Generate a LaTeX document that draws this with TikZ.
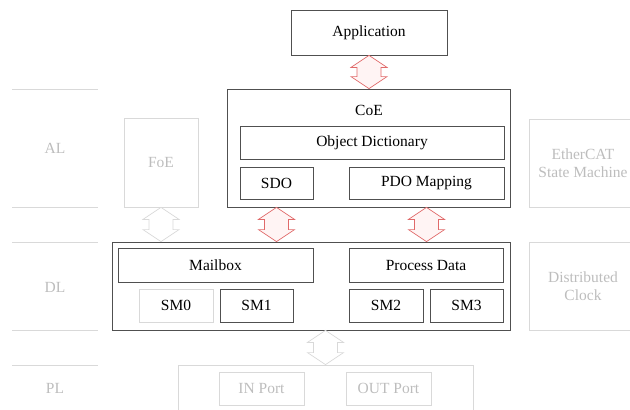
\documentclass[tikz,border=0pt]{standalone}
\usepackage{fontspec}
\setmainfont{Liberation Serif}
\usetikzlibrary{calc}

\definecolor{edge}{HTML}{505050}
\definecolor{faint}{HTML}{D9D9D9}
\definecolor{fainttext}{HTML}{BDBDBD}
\definecolor{linkred}{HTML}{E06A6A}
\definecolor{linkfill}{HTML}{FFF4F4}

% vertical double-headed block arrow between two named points
\newcommand\blockupdown[3]{%
  \draw[#1] let \p1=(#2), \p2=(#3) in
    (\x1,\y1) -- (\x1+18pt,\y1-12pt) -- (\x1+12pt,\y1-12pt)
    -- (\x1+12pt,\y2+12pt) -- (\x1+18pt,\y2+12pt) -- (\x1,\y2)
    -- (\x1-18pt,\y2+12pt) -- (\x1-12pt,\y2+12pt)
    -- (\x1-12pt,\y1-12pt) -- (\x1-18pt,\y1-12pt) -- cycle;}

\tikzset{
  box/.style={draw=edge, line width=0.8pt, rectangle, inner sep=0pt,
    font=\fontsize{15.5}{17.5}\selectfont, text=black},
  ghost/.style={draw=faint, line width=0.8pt, rectangle, inner sep=0pt,
    font=\fontsize{15.5}{17.5}\selectfont, text=fainttext, align=center},
  lbl/.style={font=\fontsize{15.5}{17.5}\selectfont, inner sep=0pt},
  redlink/.style={draw=linkred, line width=0.7pt, fill=linkfill, line join=miter},
  greylink/.style={draw=faint, line width=0.7pt, fill=white, line join=miter},
  layerline/.style={draw=faint, line width=0.8pt}
}

\begin{document}
\begin{tikzpicture}[x=1pt, y=-1pt]
\useasboundingbox (0,0) rectangle (630,410);
\clip (0,0) rectangle (630,410);

% layer separators and names
\foreach \yy in {89,207,242,330,365} \draw[layerline] (12,\yy) -- (98,\yy);
\node[lbl, text=fainttext] (al) at (55,148) {AL};
\node[lbl, text=fainttext] (dlname) at (55,287) {DL};
\node[lbl, text=fainttext] (plname) at (55,388) {PL};

% application layer
\node[box, minimum width=156pt, minimum height=45pt] (app) at (369,32.5) {Application};
\node[box, minimum width=283pt, minimum height=118pt] (coe) at (368.5,148) {};
\node[lbl] (coename) at (369,110) {CoE};
\node[box, minimum width=264pt, minimum height=33pt] (od) at (372,142.5) {Object Dictionary};
\node[box, minimum width=73pt, minimum height=32pt] (sdo) at (276.5,183) {SDO};
\node[box, minimum width=155pt, minimum height=32pt] (pdo) at (426.5,183) {PDO Mapping};
\node[ghost, minimum width=74pt, minimum height=89pt] (foe) at (161,162.5) {FoE};
\node[ghost, minimum width=108pt, minimum height=88pt] (esm) at (583,163) {EtherCAT\\State Machine};

% data link layer
\node[box, minimum width=398pt, minimum height=88pt] (dl) at (311,286) {};
\node[box, minimum width=195pt, minimum height=34pt] (mbx) at (215.5,265) {Mailbox};
\node[box, minimum width=154pt, minimum height=34pt] (pd) at (426,265) {Process Data};
\node[box, draw=faint, minimum width=74pt, minimum height=33pt] (sm0) at (176,305.5) {SM0};
\node[box, minimum width=73pt, minimum height=33pt] (sm1) at (256.5,305.5) {SM1};
\node[box, minimum width=74pt, minimum height=33pt] (sm2) at (386,305.5) {SM2};
\node[box, minimum width=73pt, minimum height=33pt] (sm3) at (466.5,305.5) {SM3};
\node[ghost, minimum width=108pt, minimum height=88pt] (dc) at (583,286) {Distributed\\Clock};

% physical layer
\node[ghost, minimum width=295pt, minimum height=60pt] (pl) at (325.5,395) {};
\node[ghost, minimum width=85pt, minimum height=33pt] (inport) at (261.5,388.5) {IN Port};
\node[ghost, minimum width=85pt, minimum height=33pt] (outport) at (388.5,388.5) {OUT Port};

% links between layers
\blockupdown{redlink}{app.south}{coe.north}
\blockupdown{redlink}{sdo.south |- coe.south}{sdo.south |- dl.north}
\blockupdown{redlink}{pdo.south |- coe.south}{pdo.south |- dl.north}
\blockupdown{greylink}{foe.south}{foe.south |- dl.north}
\blockupdown{greylink}{pl.north |- dl.south}{pl.north}
\end{tikzpicture}
\end{document}
